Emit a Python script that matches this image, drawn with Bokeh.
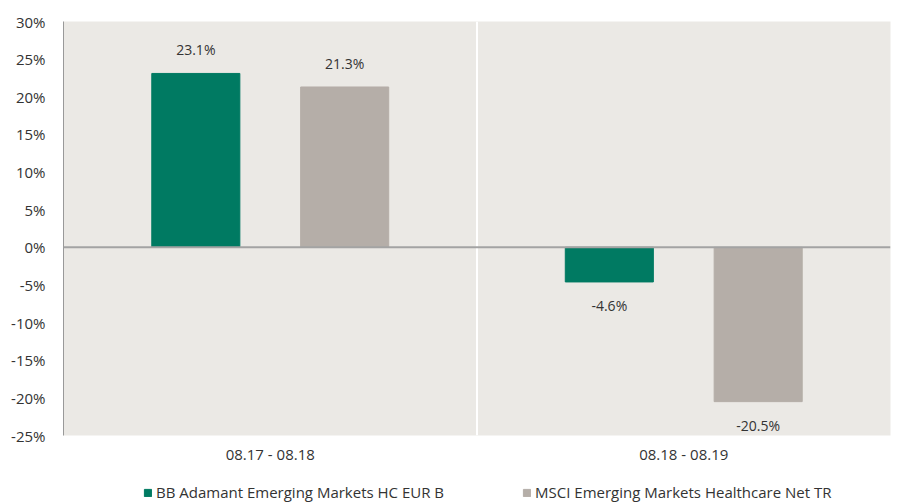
from bokeh.plotting import figure
from bokeh.models import ColumnDataSource, FixedTicker, PrintfTickFormatter, Span, Legend, LegendItem, FactorRange, Range1d
from bokeh.layouts import column
from bokeh.transform import dodge
from bokeh.embed import file_html
from bokeh.resources import INLINE
from bokeh.core.properties import value

periods = ["08.17 - 08.18", "08.18 - 08.19"]
fund_name = "BB Adamant Emerging Markets HC EUR B"
bench_name = "MSCI Emerging Markets Healthcare Net TR"
fund_vals = [23.1, -4.6]
bench_vals = [21.3, -20.5]
y_ticks = [-25, -20, -15, -10, -5, 0, 5, 10, 15, 20, 25, 30]

GREEN = "#007a62"
GREY = "#b5aea8"
BG = "#ebe9e5"
FONT = "Open Sans"


def lbl(v):
    return f"{v:.1f}%"


src = ColumnDataSource(dict(period=periods, fund=fund_vals, bench=bench_vals))

p = figure(x_range=FactorRange(*periods, range_padding=0), y_range=(-25, 30),
           width=899, height=470, output_backend="svg", toolbar_location=None,
           min_border_left=63, min_border_right=9, min_border_top=21, min_border_bottom=35)
p.outline_line_color = None
p.background_fill_color = BG
p.border_fill_color = "white"
p.xgrid.grid_line_color = None
p.ygrid.grid_line_color = None

W = 0.213
OFF = 0.18
r1 = p.vbar(x=dodge("period", -OFF, range=p.x_range), top="fund", bottom=0, width=W,
            source=src, fill_color=GREEN, line_color=GREEN)
r2 = p.vbar(x=dodge("period", OFF, range=p.x_range), top="bench", bottom=0, width=W,
            source=src, fill_color=GREY, line_color=GREY)

p.add_layout(Span(location=1, dimension="height", line_color="white", line_width=2))
p.add_layout(Span(location=0, dimension="width", line_color="#a3a3a3", line_width=2))

for vals, off in ((fund_vals, -OFF), (bench_vals, OFF)):
    pos_idx = [i for i, v in enumerate(vals) if v >= 0]
    neg_idx = [i for i, v in enumerate(vals) if v < 0]
    pos_src = ColumnDataSource(dict(period=[periods[i] for i in pos_idx],
                                    v=[vals[i] for i in pos_idx],
                                    t=[lbl(vals[i]) for i in pos_idx]))
    neg_src = ColumnDataSource(dict(period=[periods[i] for i in neg_idx],
                                    v=[vals[i] for i in neg_idx],
                                    t=[lbl(vals[i]) for i in neg_idx]))
    p.text(x=dodge("period", off, range=p.x_range), y="v", text="t", source=pos_src,
           text_align="center", text_baseline="bottom", y_offset=-14,
           text_font=value(FONT), text_font_size="14px", text_color="#333333")
    p.text(x=dodge("period", off, range=p.x_range), y="v", text="t", source=neg_src,
           text_align="center", text_baseline="top", y_offset=14,
           text_font=value(FONT), text_font_size="14px", text_color="#333333")

p.yaxis.ticker = FixedTicker(ticks=y_ticks)
p.yaxis.formatter = PrintfTickFormatter(format="%d%%")
p.yaxis.major_tick_line_color = None
p.yaxis.minor_tick_line_color = None
p.yaxis.axis_line_color = "#999999"
p.yaxis.major_label_standoff = 12
p.yaxis.major_label_text_font = FONT
p.yaxis.major_label_text_font_size = "15px"
p.yaxis.major_label_text_color = "#333333"

p.xaxis.axis_line_color = None
p.xaxis.major_tick_line_color = None
p.xaxis.minor_tick_line_color = None
p.xaxis.major_label_standoff = 2
p.xaxis.major_label_text_font = FONT
p.xaxis.major_label_text_font_size = "15px"
p.xaxis.major_label_text_color = "#333333"

# legend strip (shares the categorical x range; its y window lies above all bars)
lg = figure(width=899, height=32, output_backend="svg", toolbar_location=None,
            x_range=p.x_range, y_range=Range1d(100, 101),
            x_axis_location=None, y_axis_location=None,
            min_border=0, min_border_left=0, min_border_right=0, min_border_top=0, min_border_bottom=0)
lg.outline_line_color = None
lg.xgrid.grid_line_color = None
lg.ygrid.grid_line_color = None
lg.background_fill_color = "white"
d1 = lg.vbar(x=dodge("period", -OFF, range=p.x_range), top="fund", bottom=0, width=W,
             source=src, fill_color=GREEN, line_color=GREEN)
d2 = lg.vbar(x=dodge("period", OFF, range=p.x_range), top="bench", bottom=0, width=W,
             source=src, fill_color=GREY, line_color=GREY)
legend = Legend(items=[LegendItem(label=fund_name, renderers=[d1]),
                       LegendItem(label=bench_name, renderers=[d2])],
                orientation="horizontal", location=(80, 0),
                glyph_width=9, glyph_height=9, label_standoff=4, spacing=78,
                label_text_font=FONT, label_text_font_size="15px", label_text_color="#333333",
                background_fill_alpha=0, border_line_color=None, padding=0, margin=0)
lg.add_layout(legend, "center")

layout = column(p, lg, spacing=0)
open("out.html", "w").write(file_html(layout, INLINE))
